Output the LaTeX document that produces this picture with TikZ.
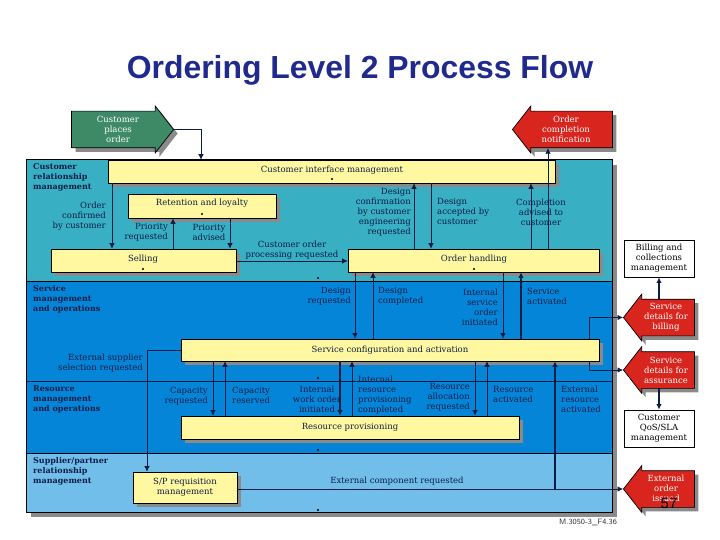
\documentclass[tikz,border=0pt]{standalone}
\usepackage{fontspec}
\setmainfont{DejaVu Serif}
\newfontfamily\titlefont{Liberation Sans}
\usetikzlibrary{arrows.meta,shapes.arrows,shadows}
\definecolor{crmteal}{HTML}{38AFC3}
\definecolor{opsblue}{HTML}{0585D8}
\definecolor{splight}{HTML}{72BEEB}
\definecolor{boxyellow}{HTML}{FFF8A0}
\definecolor{greenflag}{HTML}{3F8A66}
\definecolor{redflag}{HTML}{D8261F}
\definecolor{shadowgrey}{HTML}{8A8A8A}
\definecolor{inknavy}{HTML}{0B1D45}
\definecolor{titlenavy}{HTML}{1F2A8C}
\tikzset{
    castshadow/.style={drop shadow={shadow xshift=4pt,shadow yshift=-4pt,opacity=1,fill=shadowgrey}},
    procbox/.style={draw=black,line width=0.7pt,fill=boxyellow,inner sep=0pt,castshadow},
    sidebox/.style={draw=black,line width=0.9pt,fill=white,inner sep=0pt},
    flag/.style={shape=single arrow,draw=black,line width=0.7pt,inner xsep=0pt,inner ysep=18pt,
        single arrow head extend=5pt,single arrow tip angle=104,minimum height=#1,anchor=tip,castshadow},
    flow/.style={draw=inknavy,line width=0.7pt,-{Latex[length=5.5pt,width=5.5pt]}},
    heavyflow/.style={flow,line width=1.4pt},
    txt/.style={font=\fontsize{8.5}{10}\selectfont,inner sep=0pt,text=inknavy},
    leftlab/.style={txt,anchor=north west,align=left},
    rightlab/.style={txt,anchor=north east,align=right},
    midlab/.style={txt,anchor=north,align=center},
    bandlab/.style={leftlab,font=\fontsize{8}{10}\selectfont\bfseries},
    flagtxt/.style={txt,text=white,align=center},
}
\begin{document}
\begin{tikzpicture}[x=1pt,y=-1pt]
    \useasboundingbox (0,0) rectangle (720,540);
    \node (title) [font=\titlefont\fontsize{31.9}{34}\bfseries\selectfont,text=titlenavy,inner sep=0pt] at (360,70.5) {Ordering Level 2 Process Flow};

    % bands
    \fill[shadowgrey] (31,165) rectangle (617,517);
    \fill[crmteal] (26,160) rectangle (612,281);
    \fill[opsblue] (26,281) rectangle (612,453);
    \fill[splight] (26,453) rectangle (612,512);
    \draw[line width=1pt] (26,281)--(612,281);
    \draw[line width=1pt,inknavy] (26,381.5)--(612,381.5);
    \draw[line width=1pt] (26,453)--(612,453);
    \draw[line width=1pt] (26,160) rectangle (612,512);

    % process boxes
    \node (cim) [procbox,minimum width=447pt,minimum height=23pt] at (331.5,171.5) {};
    \node (retention) [procbox,minimum width=148pt,minimum height=24pt] at (202,206) {};
    \node (selling) [procbox,minimum width=185pt,minimum height=23pt] at (143.5,260.5) {};
    \node (ordering) [procbox,minimum width=251pt,minimum height=23pt] at (473.5,260.5) {};
    \node (config) [procbox,minimum width=418pt,minimum height=22pt] at (390,350) {};
    \node (provision) [procbox,minimum width=338pt,minimum height=23pt] at (350,427.5) {};
    \node (requisition) [procbox,minimum width=104pt,minimum height=31pt] at (185,487.5) {};
    \node (billing) [sidebox,minimum width=70pt,minimum height=37pt] at (659,258.5) {};
    \node (qos) [sidebox,minimum width=70pt,minimum height=37pt] at (659,428.5) {};

    % flags
    \node (placed) [flag=102pt,fill=greenflag,shape border rotate=0] at (174,129.5) {};
    \node (notice) [flag=100pt,fill=redflag,shape border rotate=180] at (512,129.5) {};
    \node (forbill) [flag=71pt,fill=redflag,shape border rotate=180] at (623,317.5) {};
    \node (forassure) [flag=71pt,fill=redflag,shape border rotate=180] at (623,370) {};
    \node (issued) [flag=71pt,fill=redflag,shape border rotate=180] at (623,489) {};

    % straight connectors
    \foreach \from/\to/\x in {
        cim.south/selling.north/112,selling.north/retention.south/173,retention.south/selling.north/230,
        ordering.north/cim.south/414,cim.south/ordering.north/431,ordering.north/cim.south/531,
        ordering.north/notice.south/548,ordering.south/config.north/355,config.north/ordering.south/373,
        ordering.south/config.north/503,config.south/provision.north/213,provision.north/config.south/225,
        provision.north/config.south/352,config.south/provision.north/475,provision.north/config.south/487}
    {
        \draw[flow] (\x,0 |- \from) -- (\x,0 |- \to);
    }
    \draw[heavyflow] (521,0 |- config.north) -- (521,0 |- ordering.south);
    \draw[heavyflow] (340,0 |- config.south) -- (340,0 |- provision.north);
    \draw[heavyflow] (555,489) -- (555,0 |- config.south);
    \draw[heavyflow] (659,388) -- (qos.north);
    \draw[heavyflow] (659,299) -- (billing.south);

    % elbows
    \draw[flow] (placed.tip) -| (cim.north -| 201,0);
    \draw[flow] (selling.east |- 0,261) -- (ordering.west |- 0,261);
    \draw[flow] (config.west) -| (requisition.north -| 147,0);
    \draw[flow] (requisition.east |- issued.tip) -- (issued.tip);
    \draw[flow] (589,0 |- config.north) |- (forbill.tip);
    \draw[flow] (589,0 |- config.south) |- (forassure.tip);

    % box texts
    \node (cimtxt) [txt] at (332,170) {Customer interface management};
    \node (rettxt) [txt] at (202,203) {Retention and loyalty};
    \node (selltxt) [txt] at (143,259) {Selling};
    \node (ordtxt) [txt] at (474,259) {Order handling};
    \node (conftxt) [txt] at (390,350) {Service configuration and activation};
    \node (provtxt) [txt] at (350,427) {Resource provisioning};
    \node (reqtxt) [txt,align=center] at (185,487) {S/P requisition\\management};
    \node (billtxt) [txt,text=black,align=center] at (659,258.5) {Billing and\\collections\\management};
    \node (qostxt) [txt,text=black,align=center] at (659,428.5) {Customer\\QoS/SLA\\management};

    % flag texts
    \node (placedtxt) [flagtxt] at (118,129.5) {Customer\\places\\order};
    \node (noticetxt) [flagtxt] at (566,129.5) {Order\\completion\\notification};
    \node (forbilltxt) [flagtxt] at (666,317.5) {Service\\details for\\billing};
    \node (forassuretxt) [flagtxt] at (666,370) {Service\\details for\\assurance};
    \node (issuedtxt) [flagtxt] at (666,488) {External\\order\\issued};

    % band names
    \node (crmname) [bandlab] at (33,163.5) {Customer\\relationship\\management};
    \node (smname) [bandlab] at (33,285.5) {Service\\management\\and operations};
    \node (rmname) [bandlab] at (33,385.5) {Resource\\management\\and operations};
    \node (spname) [bandlab] at (33,457.5) {Supplier/partner\\relationship\\management};

    % flow labels
    \node (lconfirmed) [rightlab] at (106,201.5) {Order\\confirmed\\by customer};
    \node (lprioreq) [rightlab] at (168,223.5) {Priority\\requested};
    \node (lprioadv) [midlab] at (209,224.5) {Priority\\advised};
    \node (lprocreq) [midlab] at (292,240.5) {Customer order\\processing requested};
    \node (ldesconf) [rightlab] at (411,188.5) {Design\\confirmation\\by customer\\engineering\\requested};
    \node (ldesacc) [leftlab] at (437,198.5) {Design\\accepted by\\customer};
    \node (lcompl) [midlab] at (541,198.5) {Completion\\advised to\\customer};
    \node (ldesreq) [rightlab] at (351,287.5) {Design\\requested};
    \node (ldescomp) [leftlab] at (378,287.5) {Design\\completed};
    \node (lintserv) [rightlab] at (498,288.5) {Internal\\service\\order\\initiated};
    \node (lservact) [leftlab] at (527,287.5) {Service\\activated};
    \node (lextsup) [rightlab] at (143,353.5) {External supplier\\selection requested};
    \node (lcapreq) [rightlab] at (208,386.5) {Capacity\\requested};
    \node (lcapres) [leftlab] at (232,386.5) {Capacity\\reserved};
    \node (lintwork) [midlab] at (317,385.5) {Internal\\work order\\initiated};
    \node (lintres) [leftlab] at (358,375.5) {Internal\\resource\\provisioning\\completed};
    \node (lresall) [rightlab] at (470,383.5) {Resource\\allocation\\requested};
    \node (lresact) [leftlab] at (493,386.5) {Resource\\activated};
    \node (lextres) [leftlab] at (561,386) {External\\resource\\activated};
    \node (lextcomp) [txt] at (397,481) {External component requested};

    % corner texts
    \node (figref) [font=\sffamily\fontsize{7.8}{9}\selectfont,inner sep=0pt,text=black!80] at (588,522) {M.3050-3\_F4.36};
    \node (pageno) [font=\titlefont\fontsize{15}{17}\selectfont,inner sep=0pt,text=black] at (669,503) {57};

    % small marks
    \foreach \x/\y in {332/179,202/214,143/269,474/269,318/278,318/378,318/450,318/510}
    {
        \fill[black] (\x,\y) circle (1.2);
    }
\end{tikzpicture}
\end{document}
